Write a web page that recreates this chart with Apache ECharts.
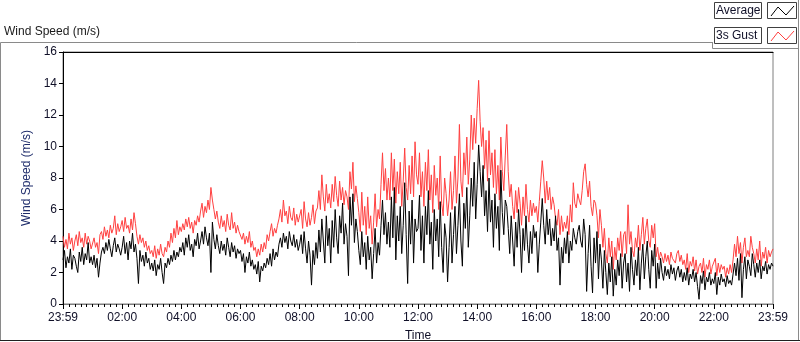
<!DOCTYPE html>
<html>
<head>
<meta charset="utf-8">
<script src="https://cdn.jsdelivr.net/npm/echarts@6.0.0/dist/echarts.min.js"></script>
<style>
  html, body { margin: 0; padding: 0; background: #fff; }
  #chart { width: 800px; height: 342px; }
</style>
</head>
<body>
<div id="chart"></div>
<script>
// one sample every 3 minutes from 23:59 (20 per hour, one row per hour)
var stepMin = 3;
var average = [
  2.8,3.4,2.3,3.0,2.6,3.5,2.2,3.1,2.9,2.4,2.0,3.3,2.7,3.6,2.5,3.2,2.8,3.9,2.6,3.0,
  2.5,3.1,2.3,2.9,1.7,2.6,3.3,3.6,3.2,3.9,3.4,4.1,3.5,3.0,3.7,4.2,3.3,3.8,3.5,3.1,
  3.6,4.3,3.2,3.9,2.8,4.0,3.5,4.5,3.3,3.8,2.9,1.3,3.4,2.7,3.1,2.4,3.3,2.6,2.9,2.2,
  2.6,2.1,2.8,1.8,2.5,2.2,2.9,2.0,1.3,2.6,2.3,2.9,2.5,3.1,2.7,3.4,2.8,3.3,3.0,3.6,
  3.3,3.9,3.1,4.2,3.6,4.4,3.4,3.8,3.0,4.1,3.7,4.5,3.5,4.0,4.6,3.8,4.9,4.2,3.7,4.5,
  2.0,5.2,4.1,3.5,4.4,3.7,3.2,4.0,3.4,3.8,3.1,4.2,3.6,3.0,3.9,3.3,3.7,2.9,3.5,3.2,
  3.4,2.7,3.2,2.0,3.0,2.6,3.3,2.4,2.8,2.2,2.5,1.9,2.7,1.4,2.4,2.1,2.6,2.3,2.9,2.5,
  3.2,2.4,3.5,2.8,3.3,3.0,3.8,4.2,3.6,4.5,3.9,4.3,3.5,4.6,4.0,3.7,4.4,3.6,4.1,3.4,
  3.8,4.4,3.2,4.6,3.5,2.6,4.0,3.1,1.2,3.4,2.5,3.9,2.9,4.7,3.3,5.4,4.0,2.6,5.6,3.7,
  4.8,2.6,5.3,3.6,6.0,4.2,3.2,5.6,4.5,6.4,3.8,5.1,4.3,1.8,6.8,5.0,7.0,3.9,5.4,4.6,
  3.4,2.5,4.6,3.0,3.9,2.2,4.3,2.8,3.6,1.6,3.2,4.8,2.6,3.9,3.1,5.0,6.6,4.4,5.8,3.8,
  5.2,3.6,6.8,4.2,7.4,2.8,5.6,4.0,6.2,3.2,5.0,7.7,4.4,1.3,5.9,3.8,6.6,2.6,5.4,4.6,
  4.8,6.9,3.4,5.6,2.6,6.2,4.4,7.2,3.8,5.2,2.2,6.0,4.0,5.4,3.0,6.5,3.6,2.0,5.1,4.2,
  1.4,3.6,5.8,2.6,4.4,6.2,3.2,5.0,7.0,4.0,2.4,6.4,4.8,7.4,3.6,5.6,8.0,6.2,9.0,5.4,
  7.6,10.1,8.4,6.8,8.8,5.6,7.2,4.6,8.0,5.2,6.6,3.6,7.0,4.8,6.2,3.4,8.5,5.8,4.4,6.6,
  6.2,4.8,3.2,5.6,4.0,2.4,5.2,3.6,6.0,4.4,2.0,4.8,3.4,5.6,3.8,2.6,4.6,3.2,5.0,4.2,
  4.6,2.0,3.8,5.2,6.7,5.0,3.8,6.0,4.4,5.4,3.7,4.8,4.0,5.6,3.4,4.2,1.2,3.6,2.6,4.2,
  3.2,4.6,2.6,4.0,3.4,4.8,4.2,3.8,4.6,5.0,4.0,3.6,5.4,4.4,0.8,3.2,5.0,2.4,0.7,4.2,
  2.6,4.6,1.6,3.8,2.8,1.0,3.4,2.0,0.6,2.6,1.4,3.0,0.5,2.2,1.2,2.8,1.8,3.2,1.0,2.6,
  3.2,1.4,2.6,0.8,3.6,2.2,1.2,2.8,1.8,3.6,0.9,2.6,3.8,1.6,3.0,4.0,2.2,1.0,3.4,2.4,
  3.8,1.0,2.6,1.6,2.9,2.0,1.5,2.4,1.8,2.2,1.6,2.5,1.9,2.3,1.5,2.1,2.4,1.7,2.2,1.4,
  2.0,1.5,2.3,1.2,1.9,1.6,2.2,1.4,2.0,1.1,0.3,1.8,1.3,2.1,0.9,1.7,1.4,2.0,1.2,1.6,
  1.3,2.0,0.6,1.7,1.2,1.9,1.4,1.6,1.1,1.8,1.3,1.5,1.2,1.9,2.6,1.8,2.9,1.5,3.2,0.4,
  2.2,3.0,1.6,2.8,2.4,1.8,3.2,2.5,1.7,2.6,2.0,2.8,1.6,2.4,2.1,2.7,1.9,2.5,2.2,2.6,
  2.4
];
var gust = [
  4.3,3.6,4.1,3.5,4.5,3.8,4.2,3.4,4.0,4.4,3.7,4.6,3.9,4.2,3.6,4.5,3.8,4.3,4.0,3.5,
  3.4,4.2,3.6,3.9,3.2,4.4,4.6,4.1,4.9,4.3,4.7,4.2,5.0,4.5,4.8,5.6,4.4,5.1,4.6,4.9,
  5.3,4.6,5.5,4.8,5.0,4.5,5.4,4.7,5.8,5.1,4.3,3.8,4.4,3.9,4.2,3.6,4.0,3.4,3.7,3.2,
  3.4,3.0,3.7,2.9,3.5,3.1,3.8,3.2,3.0,3.6,3.3,4.0,3.6,4.5,3.9,4.8,4.2,5.3,4.4,4.9,
  4.6,5.1,4.7,5.4,4.9,5.5,4.8,5.2,4.5,5.3,5.0,5.6,5.2,5.9,6.4,5.5,6.2,5.8,6.6,6.0,
  7.4,6.6,6.0,5.4,5.9,5.2,4.8,5.6,4.9,5.3,4.6,5.7,5.0,4.7,5.8,4.8,5.2,4.5,5.0,4.6,
  4.7,4.1,4.5,3.8,4.3,3.9,4.6,3.6,4.0,3.4,3.6,3.0,3.5,3.1,3.8,3.3,3.9,3.5,4.4,4.0,
  4.6,5.1,4.3,4.8,4.5,5.0,5.4,6.0,5.2,6.6,5.6,5.9,5.1,6.2,5.5,5.3,6.1,5.0,5.7,5.2,
  5.2,6.0,4.8,6.5,5.4,4.9,5.8,5.0,5.5,6.3,5.1,5.9,6.1,7.2,6.0,8.2,6.8,5.9,7.6,6.4,
  7.0,6.1,7.6,6.5,8.1,6.9,6.2,7.8,6.6,7.4,6.3,7.2,6.8,6.0,8.4,7.3,9.0,6.5,7.5,6.7,
  5.8,4.6,7.1,5.0,6.2,4.4,6.8,4.8,5.6,3.8,5.2,7.0,4.9,6.0,5.4,7.6,9.6,7.2,8.6,6.6,
  8.0,6.6,9.6,7.2,9.2,6.4,8.4,7.0,9.0,6.2,7.8,9.9,7.4,6.6,8.8,7.0,9.4,6.8,10.3,8.2,
  7.6,9.6,6.8,8.4,6.2,9.0,7.2,9.8,6.6,8.2,5.8,8.8,6.9,8.0,6.0,9.4,6.4,5.6,8.0,7.0,
  5.6,6.6,8.4,6.0,7.2,9.4,6.4,8.0,11.4,7.8,6.8,9.6,8.2,10.6,7.6,9.2,12.0,9.8,11.8,10.2,
  12.4,14.2,11.6,10.0,11.2,8.6,10.4,7.8,11.0,8.2,9.6,7.4,9.8,7.0,8.8,6.6,10.6,8.4,7.2,9.4,
  11.4,8.4,6.8,7.6,6.2,5.4,7.2,5.8,7.4,6.4,5.0,6.8,5.6,7.6,6.0,5.2,6.6,5.6,6.4,5.8,
  6.2,5.2,6.5,7.8,9.1,8.0,6.4,7.8,6.6,7.4,6.0,6.8,6.3,5.4,5.0,6.0,4.4,5.6,4.6,5.2,
  4.8,5.6,4.4,6.3,5.2,7.7,6.4,6.1,7.0,6.6,6.3,7.2,8.4,8.9,7.6,6.8,7.8,6.2,5.6,6.6,
  6.4,5.6,4.2,6.0,5.0,3.6,4.8,3.2,2.6,4.2,3.0,4.0,2.2,3.6,2.8,4.2,3.4,4.6,3.0,4.4,
  4.6,3.2,6.3,3.8,4.6,3.4,3.0,4.2,3.6,5.0,3.4,4.4,5.5,3.8,4.8,5.4,4.0,3.6,5.0,4.2,
  5.1,3.0,3.6,2.8,3.3,3.0,2.6,3.2,2.7,3.1,2.5,3.3,2.9,3.0,2.6,3.2,3.4,2.7,3.1,2.5,
  2.8,2.2,3.2,2.0,2.7,2.4,3.0,2.1,2.8,1.9,2.4,2.6,2.0,2.9,1.7,2.5,2.2,2.8,1.9,2.4,
  2.4,2.9,1.8,2.6,2.0,2.5,2.2,2.4,1.7,2.3,1.9,2.5,2.0,2.8,3.8,3.0,4.3,3.2,3.9,2.6,
  3.6,4.2,3.0,3.4,3.0,4.3,3.6,3.2,2.6,3.5,2.8,4.0,2.4,3.3,2.9,3.6,2.6,3.4,3.0,3.3,
  3.5
];
var seriesNames = ['Average', '3s Gust'];
var seriesColors = ['#000000', '#ff4040'];

function pts(arr){
  return arr.map(function(v, i){ return [i * stepMin, v]; });
}
function timeLabel(v){
  if (v === 0 || v === 1440) return '23:59';
  var h = Math.round(v / 60);
  return (h < 10 ? '0' : '') + h + ':00';
}

var font = 'Liberation Sans';
var txt = '#101028';
var chart = echarts.init(document.getElementById('chart'));

// little legend boxes top right, like the LabVIEW plot legend
function legendRow(y, name, color){
  return [
    { type: 'rect', shape: { x: 714.5, y: y + 0.5, width: 47, height: 16 },
      style: { fill: '#fff', stroke: '#404040', lineWidth: 1 } },
    { type: 'text', x: 716, y: y + 9, style: { text: name, font: '12px ' + font, fill: txt, verticalAlign: 'middle' } },
    { type: 'rect', shape: { x: 767.5, y: y + 0.5, width: 29, height: 16 },
      style: { fill: '#fff', stroke: '#404040', lineWidth: 1 } },
    { type: 'polyline', shape: { points: [[771, y + 14], [778, y + 5], [786, y + 13], [794, y + 4]] },
      style: { stroke: color, lineWidth: 1, fill: null } }
  ];
}

var option = {
  animation: false,
  backgroundColor: '#fff',
  textStyle: { fontFamily: font },
  grid: { left: 63, right: 27, top: 52, bottom: 38, containLabel: false, outerBoundsMode: 'none', show: true, borderColor: '#7f7f7f', borderWidth: 1, backgroundColor: '#fff' },
  graphic: [
    { type: 'text', left: 4, top: 26, style: { text: 'Wind Speed (m/s)', font: '12px ' + font, fill: '#1a1a1a' } },
    { type: 'polyline', shape: { points: [[712, 42.5], [0.5, 42.5], [0.5, 340.5]] }, style: { stroke: '#8a8a8a', lineWidth: 1, fill: null } },
    { type: 'polyline', shape: { points: [[712.5, 42], [712.5, 48.5], [798.5, 48.5]] }, style: { stroke: '#8a8a8a', lineWidth: 1, fill: null } },
    { type: 'line', shape: { x1: 798.5, y1: 0, x2: 798.5, y2: 341 }, style: { stroke: '#8a8a8a', lineWidth: 1 } },
    { type: 'line', shape: { x1: 0, y1: 340.5, x2: 800, y2: 340.5 }, style: { stroke: '#202020', lineWidth: 1 } }
  ].concat(legendRow(2, seriesNames[0], seriesColors[0]), legendRow(27, seriesNames[1], seriesColors[1])),
  xAxis: [{
    type: 'value',
    min: 0, max: 1440, interval: 120,
    name: 'Time', nameLocation: 'middle', nameGap: 26,
    nameTextStyle: { color: txt, fontSize: 12, fontFamily: font },
    axisLine: { show: true, lineStyle: { color: '#7f7f7f', width: 1 } },
    axisTick: { show: true, length: 5, lineStyle: { color: '#000' } },
    minorTick: { show: true, splitNumber: 10, length: 3, lineStyle: { color: '#000' } },
    axisLabel: { color: txt, fontSize: 12, fontFamily: font, margin: 8, showMinLabel: true, showMaxLabel: true, formatter: timeLabel },
    splitLine: { show: false }
  }, {
    type: 'value', position: 'top', min: 0, max: 1440,
    axisLine: { show: true, lineStyle: { color: '#000', width: 1 } },
    axisTick: { show: false }, axisLabel: { show: false }, splitLine: { show: false }
  }],
  yAxis: {
    type: 'value',
    min: 0, max: 16, interval: 2,
    name: 'Wind Speed (m/s)', nameLocation: 'middle', nameGap: 21, nameRotate: 90,
    nameTextStyle: { color: '#1f2d6b', fontSize: 12, fontFamily: font },
    axisLine: { show: true, lineStyle: { color: '#000', width: 1 } },
    axisTick: { show: true, length: 4, lineStyle: { color: '#000' } },
    axisLabel: { color: txt, fontSize: 12, fontFamily: font, margin: 6 },
    splitLine: { show: false }
  },
  series: [
    { name: seriesNames[1], type: 'line', data: pts(gust), showSymbol: false, lineStyle: { color: seriesColors[1], width: 1 }, itemStyle: { color: seriesColors[1] } },
    { name: seriesNames[0], type: 'line', data: pts(average), showSymbol: false, lineStyle: { color: seriesColors[0], width: 1 }, itemStyle: { color: seriesColors[0] } }
  ]
};
chart.setOption(option);
</script>
</body>
</html>
